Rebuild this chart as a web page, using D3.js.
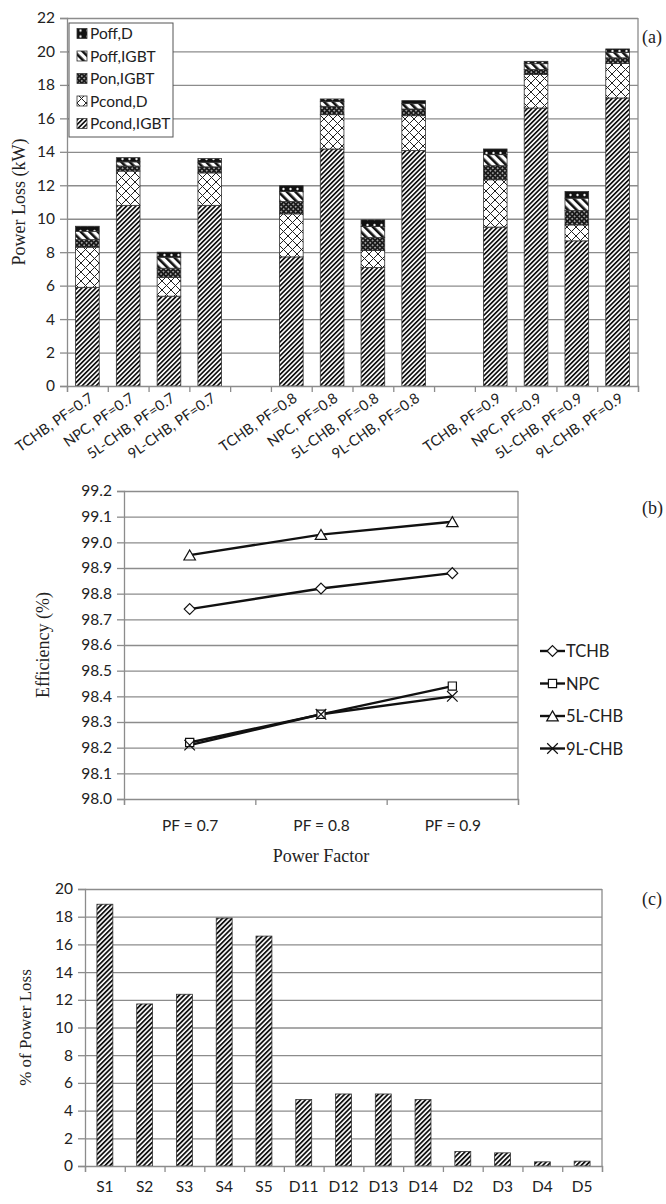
<!DOCTYPE html>
<html lang="en">
<head>
<meta charset="utf-8">
<title>Power loss, efficiency and loss share</title>
<script src="https://cdn.jsdelivr.net/npm/d3@7"></script>
<style>
  body { margin: 0; background: #fff; }
  .lbl, .tick text { font-family: Lato, "Open Sans", sans-serif; fill: #222; }
  .ttl { font-family: "Liberation Serif", "DejaVu Serif", serif; fill: #222; }
  .grid line { stroke: #8c8c8c; stroke-width: 1.3; }
  .grid path { display: none; }
  .axis path, .axis line { stroke: #8c8c8c; stroke-width: 1.3; fill: none; }
</style>
</head>
<body>
<script>
// ---- data: (a) power loss breakdown, kW ----
var slotsA = ["TCHB, PF=0.7", "NPC, PF=0.7", "5L-CHB, PF=0.7", "9L-CHB, PF=0.7", "gap1",
              "TCHB, PF=0.8", "NPC, PF=0.8", "5L-CHB, PF=0.8", "9L-CHB, PF=0.8", "gap2",
              "TCHB, PF=0.9", "NPC, PF=0.9", "5L-CHB, PF=0.9", "9L-CHB, PF=0.9"];
var barsA = slotsA.filter(function(s) { return s.indexOf("gap") !== 0; });
var pcondIGBT = [5.9, 10.8, 5.37, 10.8, 7.72, 14.17, 7.08, 14.08, 9.5, 16.62, 8.68, 17.22];
var pcondD    = [2.4, 2.05, 1.13, 1.94, 2.57, 2.05, 1.02, 2.08, 2.83, 2.0, 0.95, 2.06];
var ponIGBT   = [0.45, 0.3, 0.54, 0.36, 0.74, 0.5, 0.77, 0.4, 0.84, 0.3, 0.86, 0.34];
var poffIGBT  = [0.5, 0.25, 0.66, 0.28, 0.6, 0.28, 0.66, 0.32, 0.66, 0.35, 0.74, 0.33];
var poffD     = [0.3, 0.25, 0.3, 0.22, 0.34, 0.16, 0.4, 0.18, 0.34, 0.14, 0.4, 0.2];
var seriesA = ["Pcond,IGBT", "Pcond,D", "Pon,IGBT", "Poff,IGBT", "Poff,D"];
var yTicksA = d3.range(0, 23, 2);

// ---- data: (b) efficiency, % ----
var pfLabels = ["PF = 0.7", "PF = 0.8", "PF = 0.9"];
var effTCHB = [98.74, 98.82, 98.88];
var effNPC  = [98.22, 98.33, 98.44];
var eff5L   = [98.95, 99.03, 99.08];
var eff9L   = [98.21, 98.33, 98.40];
var seriesB = ["TCHB", "NPC", "5L-CHB", "9L-CHB"];
var yTicksB = d3.range(0, 13).map(function(i) { return 98 + i / 10; });

// ---- data: (c) share of power loss, % ----
var devices = ["S1", "S2", "S3", "S4", "S5", "D11", "D12", "D13", "D14", "D2", "D3", "D4", "D5"];
var lossShare = [18.9, 11.7, 12.4, 17.9, 16.6, 4.8, 5.2, 5.2, 4.8, 1.05, 0.95, 0.3, 0.35];
var yTicksC = d3.range(0, 21, 2);

var W = 666, H = 1204;
var svg = d3.select("body").append("svg").attr("width", W).attr("height", H);
var defs = svg.append("defs");

// hatch patterns
function stripes(id, size, lw, angle) {
    var p = defs.append("pattern").attr("id", id).attr("patternUnits", "userSpaceOnUse")
        .attr("width", size).attr("height", size).attr("patternTransform", "rotate(" + angle + ")");
    p.append("rect").attr("width", size).attr("height", size).attr("fill", "#fff");
    p.append("rect").attr("width", lw).attr("height", size).attr("fill", "#111");
}
stripes("pcIGBT", 3.3, 1.7, 45);
stripes("poIGBT", 6, 2.6, -45);
stripes("hatchC", 3.4, 1.8, 45);

var pX = defs.append("pattern").attr("id", "pcD").attr("patternUnits", "userSpaceOnUse")
    .attr("width", 9).attr("height", 9).attr("patternTransform", "translate(0,2)");
pX.append("rect").attr("width", 9).attr("height", 9).attr("fill", "#fff");
pX.append("path").attr("d", "M0,0L9,9M9,0L0,9").attr("stroke", "#222").attr("stroke-width", 1);

var pOn = defs.append("pattern").attr("id", "ponIGBT").attr("patternUnits", "userSpaceOnUse")
    .attr("width", 3.4).attr("height", 3.4).attr("patternTransform", "rotate(45)");
pOn.append("rect").attr("width", 3.4).attr("height", 3.4).attr("fill", "#1a1a1a");
pOn.append("rect").attr("x", 1).attr("y", 1).attr("width", 1.4).attr("height", 1.4).attr("fill", "#ddd");

var pOffD = defs.append("pattern").attr("id", "poffD").attr("patternUnits", "userSpaceOnUse")
    .attr("width", 7).attr("height", 6);
pOffD.append("rect").attr("width", 7).attr("height", 6).attr("fill", "#111");
pOffD.append("circle").attr("cx", 3.5).attr("cy", 3).attr("r", 1.2).attr("fill", "#eee");

var fillsA = ["url(#pcIGBT)", "url(#pcD)", "url(#ponIGBT)", "url(#poIGBT)", "url(#poffD)"];

// ================= (a) =================
var a = { l: 67, r: 638, t: 18, b: 386 };
var xA = d3.scaleBand().domain(slotsA).range([a.l, a.r]).paddingInner(0.42).paddingOuter(0.21);
var edgeA = d3.scaleLinear().domain([0, slotsA.length]).range([a.l, a.r]);
var yA = d3.scaleLinear().domain([0, 22]).range([a.b, a.t]);

svg.append("g").attr("class", "grid").attr("transform", "translate(" + a.l + ",0)")
    .call(d3.axisLeft(yA).tickValues(yTicksA.slice(1)).tickSize(-(a.r - a.l)).tickFormat(""));
svg.append("line").attr("x1", a.r).attr("x2", a.r).attr("y1", a.t).attr("y2", a.b)
    .attr("stroke", "#8c8c8c").attr("stroke-width", 1.3);

var stackA = d3.stack().keys(d3.range(5))
    .value(function(d, k) { return [pcondIGBT, pcondD, ponIGBT, poffIGBT, poffD][k][d]; })(d3.range(barsA.length));

svg.append("g").selectAll("g").data(stackA).enter().append("g")
    .attr("fill", function(d, k) { return fillsA[k]; })
    .selectAll("rect").data(function(d) { return d; }).enter().append("rect")
    .attr("x", function(d) { return xA(barsA[d.data]); })
    .attr("y", function(d) { return yA(d[1]); })
    .attr("width", xA.bandwidth())
    .attr("height", function(d) { return yA(d[0]) - yA(d[1]); })
    .attr("stroke", "#333").attr("stroke-width", 0.8);

svg.append("g").attr("class", "axis").attr("transform", "translate(" + a.l + ",0)")
    .call(d3.axisLeft(yA).tickValues(yTicksA).tickSize(7).tickPadding(5))
    .selectAll("text").attr("font-size", 15.5);
svg.append("g").attr("class", "axis").attr("transform", "translate(0," + a.b + ")")
    .call(d3.axisBottom(edgeA).tickValues(d3.range(slotsA.length + 1)).tickSize(6).tickFormat(""));

svg.append("g").selectAll("text").data(barsA).enter().append("text")
    .attr("class", "lbl").attr("font-size", 14.5).attr("text-anchor", "end").attr("dy", "0.71em")
    .attr("transform", function(d) { return "translate(" + (xA(d) + xA.bandwidth() / 2 + 1) + "," + (a.b + 6) + ") rotate(-35)"; })
    .text(function(d) { return d; });

svg.append("text").attr("class", "ttl").attr("font-size", 18).attr("text-anchor", "middle")
    .attr("transform", "translate(25," + ((a.t + a.b) / 2) + ") rotate(-90)").text("Power Loss (kW)");
svg.append("text").attr("class", "ttl").attr("font-size", 18).attr("x", 642).attr("y", 43).text("(a)");

// legend (a)
var legA = svg.append("g").attr("transform", "translate(69,23)");
legA.append("rect").attr("width", 104).attr("height", 114).attr("fill", "#fff").attr("stroke", "#555").attr("stroke-width", 1);
var legItems = d3.range(5).reverse();
legA.selectAll("g").data(legItems).enter().append("g")
    .attr("transform", function(k, i) { return "translate(8," + (10.5 + i * 22.5) + ")"; })
    .each(function(k) {
        var g = d3.select(this);
        g.append("rect").attr("x", 0).attr("y", -5).attr("width", 10).attr("height", 10)
            .attr("fill", fillsA[k]).attr("stroke", "#333").attr("stroke-width", 0.8);
        g.append("text").attr("class", "lbl").attr("x", 13).attr("y", 5.5).attr("font-size", 15.5).text(seriesA[k]);
    });

// ================= (b) =================
var b = { l: 124, r: 518, t: 491, b: 799 };
var xB = d3.scalePoint().domain(pfLabels).range([b.l, b.r]).padding(0.5);
var edgeB = d3.scaleLinear().domain([0, pfLabels.length]).range([b.l, b.r]);
var yB = d3.scaleLinear().domain([98.0, 99.2]).range([b.b, b.t]);

svg.append("g").attr("class", "grid").attr("transform", "translate(" + b.l + ",0)")
    .call(d3.axisLeft(yB).tickValues(yTicksB.slice(1)).tickSize(-(b.r - b.l)).tickFormat(""));
svg.append("line").attr("x1", b.r).attr("x2", b.r).attr("y1", b.t).attr("y2", b.b)
    .attr("stroke", "#8c8c8c").attr("stroke-width", 1.3);
svg.append("g").attr("class", "axis").attr("transform", "translate(" + b.l + ",0)")
    .call(d3.axisLeft(yB).tickValues(yTicksB).tickSize(7).tickPadding(5).tickFormat(d3.format(".1f")))
    .selectAll("text").attr("font-size", 15.5);
svg.append("g").attr("class", "axis").attr("transform", "translate(0," + b.b + ")")
    .call(d3.axisBottom(edgeB).tickValues(d3.range(pfLabels.length + 1)).tickSize(6).tickFormat(""));
var axB = svg.append("g").attr("class", "axis").attr("transform", "translate(0," + b.b + ")")
    .call(d3.axisBottom(xB).tickSize(0).tickPadding(21));
axB.select(".domain").remove();
axB.selectAll("text").attr("font-size", 15.5);

var dataB = [effTCHB, effNPC, eff5L, eff9L];
var markerB = [d3.symbolDiamond2, d3.symbolSquare2, d3.symbolTriangle2, d3.symbolTimes];
var markerSize = [75, 85, 95, 75];
var line = d3.line().x(function(d, i) { return xB(pfLabels[i]); }).y(function(d) { return yB(d); });

dataB.forEach(function(vals, k) {
    svg.append("path").datum(vals).attr("d", line).attr("fill", "none")
        .attr("stroke", "#111").attr("stroke-width", 2.4);
});
dataB.forEach(function(vals, k) {
    svg.append("g").selectAll("path").data(vals).enter().append("path")
        .attr("d", d3.symbol().type(markerB[k]).size(markerSize[k]))
        .attr("transform", function(d, i) {
            var dy = k === 2 ? 1.5 : 0;
            return "translate(" + xB(pfLabels[i]) + "," + (yB(d) + dy) + ")";
        })
        .attr("fill", "#fff").attr("stroke", "#111").attr("stroke-width", 1.2);
});

svg.append("text").attr("class", "ttl").attr("font-size", 18).attr("text-anchor", "middle")
    .attr("x", (b.l + b.r) / 2).attr("y", 862).text("Power Factor");
svg.append("text").attr("class", "ttl").attr("font-size", 18).attr("text-anchor", "middle")
    .attr("transform", "translate(49," + ((b.t + b.b) / 2) + ") rotate(-90)").text("Efficiency (%)");
svg.append("text").attr("class", "ttl").attr("font-size", 18).attr("x", 642).attr("y", 514).text("(b)");

// legend (b)
var legB = svg.append("g").attr("transform", "translate(540,651)");
seriesB.forEach(function(name, k) {
    var g = legB.append("g").attr("transform", "translate(0," + (k * 32.5) + ")");
    g.append("line").attr("x1", 0).attr("x2", 25).attr("stroke", "#111").attr("stroke-width", 2.4);
    g.append("path").attr("d", d3.symbol().type(markerB[k]).size(markerSize[k]))
        .attr("transform", "translate(12.5," + (k === 2 ? 1.5 : 0) + ")")
        .attr("fill", "#fff").attr("stroke", "#111").attr("stroke-width", 1.2);
    g.append("text").attr("class", "lbl").attr("x", 26).attr("y", 6).attr("font-size", 16.5).text(name);
});

// ================= (c) =================
var c = { l: 85, r: 602, t: 889, b: 1166 };
var xC = d3.scaleBand().domain(devices).range([c.l, c.r]).paddingInner(0.6).paddingOuter(0.3);
var edgeC = d3.scaleLinear().domain([0, devices.length]).range([c.l, c.r]);
var yC = d3.scaleLinear().domain([0, 20]).range([c.b, c.t]);

svg.append("g").attr("class", "grid").attr("transform", "translate(" + c.l + ",0)")
    .call(d3.axisLeft(yC).tickValues(yTicksC.slice(1)).tickSize(-(c.r - c.l)).tickFormat(""));
svg.append("line").attr("x1", c.r).attr("x2", c.r).attr("y1", c.t).attr("y2", c.b)
    .attr("stroke", "#8c8c8c").attr("stroke-width", 1.3);

svg.append("g").selectAll("rect").data(lossShare).enter().append("rect")
    .attr("x", function(d, i) { return xC(devices[i]); })
    .attr("y", function(d) { return yC(d); })
    .attr("width", xC.bandwidth())
    .attr("height", function(d) { return yC(0) - yC(d); })
    .attr("fill", "url(#hatchC)").attr("stroke", "#333").attr("stroke-width", 0.8);

svg.append("g").attr("class", "axis").attr("transform", "translate(" + c.l + ",0)")
    .call(d3.axisLeft(yC).tickValues(yTicksC).tickSize(7).tickPadding(5))
    .selectAll("text").attr("font-size", 15.5);
svg.append("g").attr("class", "axis").attr("transform", "translate(0," + c.b + ")")
    .call(d3.axisBottom(edgeC).tickValues(d3.range(devices.length + 1)).tickSize(6).tickFormat(""));
var axC = svg.append("g").attr("class", "axis").attr("transform", "translate(0," + c.b + ")")
    .call(d3.axisBottom(xC).tickSize(0).tickPadding(15));
axC.select(".domain").remove();
axC.selectAll("text").attr("font-size", 15.5);

svg.append("text").attr("class", "ttl").attr("font-size", 17).attr("text-anchor", "middle")
    .attr("transform", "translate(31," + ((c.t + c.b) / 2) + ") rotate(-90)").text("% of Power Loss");
svg.append("text").attr("class", "ttl").attr("font-size", 18).attr("x", 642).attr("y", 905).text("(c)");
</script>
</body>
</html>
